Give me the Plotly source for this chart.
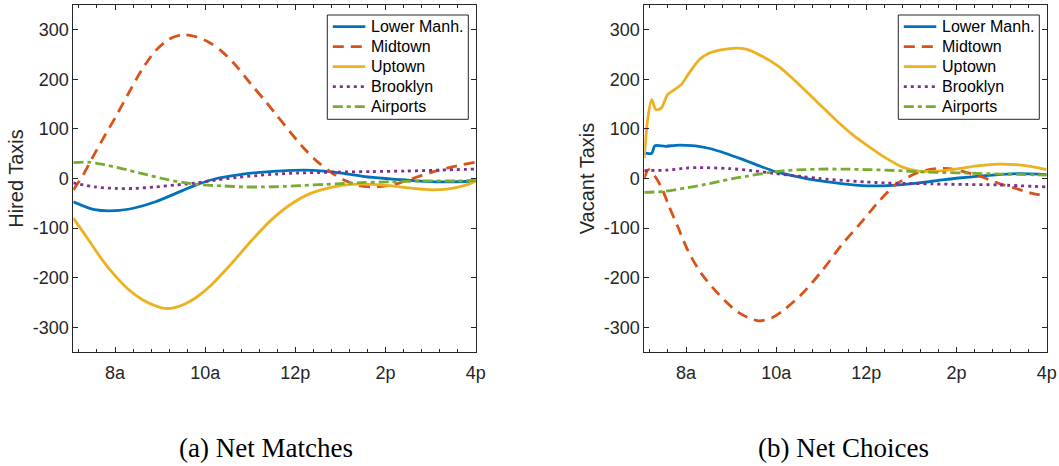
import plotly.graph_objects as go

# ---------------- data ----------------
series_names = ["Lower Manh.", "Midtown", "Uptown", "Brooklyn", "Airports"]
colors = ["#0072BD", "#D95319", "#EDB120", "#7E2F8E", "#77AC30"]
dashes = ["solid", "11px,7px", "solid", "3px,4px", "10px,4px,4px,4px"]

tick_hours = [8, 10, 12, 14, 16]
tick_labels = ["8a", "10a", "12p", "2p", "4p"]
y_ticks = [-300, -200, -100, 0, 100, 200, 300]
y_tick_labels = [str(v) for v in y_ticks]

# (a) Net Matches  -- hours, values
lm_a_t = [7.075, 7.55, 8.0, 8.45, 8.9, 9.35, 9.8, 10.25, 10.7, 11.15, 11.6, 12.2, 12.64, 13.09, 13.54, 14.0, 14.44, 14.9, 15.34, 16.0]
lm_a_v = [-47, -63, -65, -59, -47, -30, -13, 0, 7, 12, 15, 17, 15, 10, 4, 0, -3, -6, -7, -5]

mid_a_t = [7.075, 7.3, 7.5, 7.7, 8.0, 8.3, 8.6, 8.9, 9.2, 9.5, 9.8, 10.1, 10.4, 10.7, 11.0, 11.3, 11.6, 11.9, 12.2, 12.5, 12.8, 13.1, 13.4, 13.8, 14.2, 14.6, 15.0, 15.5, 16.0]
mid_a_v = [-23, 8, 42, 75, 122, 172, 220, 258, 281, 290, 286, 274, 254, 226, 192, 160, 126, 92, 60, 33, 12, -4, -14, -17, -12, 0, 12, 24, 33]

up_a_t = [7.075, 7.4, 7.7, 8.0, 8.3, 8.6, 8.9, 9.1, 9.3, 9.55, 9.8, 10.1, 10.55, 11.0, 11.45, 11.9, 12.34, 12.8, 13.24, 13.7, 14.14, 14.6, 15.04, 15.4, 15.8, 16.0]
up_a_v = [-80, -122, -162, -196, -224, -244, -257, -262, -261, -253, -240, -218, -175, -128, -85, -52, -30, -18, -12, -12, -15, -20, -23, -21, -13, -5]

bk_a_t = [7.075, 7.55, 8.0, 8.45, 8.9, 9.35, 9.8, 10.25, 10.7, 11.15, 11.6, 12.04, 12.5, 12.94, 13.7, 14.44, 15.2, 16.0]
bk_a_v = [-9, -17, -20, -20, -17, -13, -9, -3, 2, 6, 9, 11, 12, 13, 14, 15, 17, 19]

ap_a_t = [7.075, 7.4, 7.7, 8.15, 8.6, 9.05, 9.5, 9.95, 10.4, 10.85, 11.3, 11.75, 12.2, 12.64, 13.09, 13.54, 14.07, 14.8, 15.56, 16.0]
ap_a_v = [32, 33, 29, 20, 10, 0, -8, -13, -15, -17, -17, -16, -14, -12, -10, -8, -7, -5, -5, -4]

# (b) Net Choices  -- hours, values
lm_b_t = [7.075, 7.24, 7.31, 7.55, 7.77, 8.0, 8.21, 8.5, 8.87, 9.24, 9.61, 9.98, 10.35, 10.9, 11.4, 11.83, 12.27, 12.72, 13.16, 13.6, 14.05, 14.5, 14.94, 15.38, 16.0]
lm_b_v = [51, 51, 66, 65, 67, 67, 66, 61, 51, 39, 26, 14, 6, -4, -10, -14, -15, -13, -9, -4, 1, 5, 8, 10, 8]

mid_b_t = [7.075, 7.17, 7.33, 7.48, 7.61, 7.83, 8.05, 8.35, 8.72, 9.16, 9.6, 9.9, 10.2, 10.57, 11.01, 11.46, 11.9, 12.27, 12.64, 13.09, 13.46, 13.83, 14.2, 14.57, 14.94, 15.31, 15.68, 16.0]
mid_b_v = [1, 18, 2, -23, -53, -100, -147, -193, -233, -270, -287, -281, -263, -233, -187, -133, -87, -47, -13, 10, 19, 20, 13, 3, -10, -20, -30, -36]

up_b_t = [7.075, 7.15, 7.24, 7.33, 7.45, 7.59, 7.74, 7.89, 8.07, 8.3, 8.52, 8.81, 9.11, 9.33, 9.7, 10.07, 10.44, 10.88, 11.3, 11.7, 12.0, 12.42, 12.8, 13.16, 13.6, 14.05, 14.5, 14.94, 15.3, 15.67, 16.0]
up_b_v = [41, 119, 159, 139, 142, 169, 179, 189, 213, 240, 253, 260, 263, 261, 246, 225, 195, 157, 120, 88, 68, 42, 23, 15, 15, 20, 26, 29, 28, 24, 18]

bk_b_t = [7.075, 7.6, 8.0, 8.3, 8.96, 9.46, 9.98, 10.57, 10.96, 11.5, 12.0, 12.42, 12.87, 13.46, 14.2, 14.94, 16.0]
bk_b_v = [16, 17, 21, 22, 20, 16, 10, 4, 0, -4, -7, -9, -10, -11, -12, -13, -17]

ap_b_t = [7.075, 7.5, 8.0, 8.42, 8.74, 9.0, 9.31, 9.77, 10.2, 10.64, 10.96, 11.5, 12.0, 12.42, 12.87, 13.31, 13.75, 14.2, 14.94, 16.0]
ap_b_v = [-28, -26, -19, -12, -6, -1, 4, 11, 16, 18, 19, 19, 18, 17, 15, 13, 12, 11, 9, 7]

panel_a = [(lm_a_t, lm_a_v), (mid_a_t, mid_a_v), (up_a_t, up_a_v), (bk_a_t, bk_a_v), (ap_a_t, ap_a_v)]
panel_b = [(lm_b_t, lm_b_v), (mid_b_t, mid_b_v), (up_b_t, up_b_v), (bk_b_t, bk_b_v), (ap_b_t, ap_b_v)]

# ---------------- geometry (pixels) ----------------
W, H = 1059, 466
TOP, BOT = 5, 352            # plot area top / bottom in px
PH = BOT - TOP
ax_left = [73.3, 644.3]
ax_right = [475.7, 1046.7]

def px(x):
    return x / W

def py(y):
    return (BOT - y) / PH

fig = go.Figure()

LW = 2.8
for panel, xa, ya in [(panel_a, "x", "y"), (panel_b, "x2", "y2")]:
    for k, (t, v) in enumerate(panel):
        fig.add_trace(go.Scatter(
            x=t, y=v, mode="lines", name=series_names[k], showlegend=False,
            line=dict(color=colors[k], width=LW, dash=dashes[k], shape="spline", smoothing=0.8),
            xaxis=xa, yaxis=ya))

axcol = "#262626"
sans = "Liberation Sans, Arial, sans-serif"
tickfont = dict(family=sans, size=18, color=axcol)

def xax(domain, anchor):
    return dict(domain=domain, anchor=anchor, range=[7.075, 16.0],
                tickmode="array", tickvals=tick_hours, ticktext=tick_labels,
                ticks="inside", ticklen=5, tickwidth=1, tickcolor=axcol,
                showline=True, linecolor=axcol, linewidth=1, mirror="ticks",
                showgrid=False, zeroline=False, tickfont=tickfont,
                ticklabelstandoff=4,
                minor=dict(tickmode="linear", tick0=0, dtick=0.4, ticks="inside",
                           ticklen=3, tickcolor=axcol, showgrid=False))

def yax(anchor, title):
    return dict(domain=[0, 1], anchor=anchor, range=[-350, 350],
                tickmode="array", tickvals=y_ticks, ticktext=y_tick_labels,
                ticks="inside", ticklen=5, tickwidth=1, tickcolor=axcol,
                showline=True, linecolor=axcol, linewidth=1, mirror="ticks",
                showgrid=False, zeroline=False, tickfont=tickfont,
                ticklabelstandoff=0,
                title=dict(text=title, standoff=3,
                           font=dict(family=sans, size=20, color=axcol)))

# ---------------- legends (drawn as box + samples + labels) ----------------
shapes = []
annotations = []
leg_box = [327.3, 468.3, 15.0, 119.3]   # left, right, top, bottom (panel a)
row_y0, row_dy = 26.7, 20.0
for p in range(2):
    off = ax_left[p] - ax_left[0]
    L, R, T, B = leg_box[0] + off, leg_box[1] + off, leg_box[2], leg_box[3]
    shapes.append(dict(type="rect", xref="paper", yref="paper",
                       x0=px(L), x1=px(R), y0=py(B), y1=py(T),
                       line=dict(color=axcol, width=1), fillcolor="white", layer="above"))
    for k, name in enumerate(series_names):
        yy = row_y0 + k * row_dy
        shapes.append(dict(type="line", xref="paper", yref="paper",
                           x0=px(L + 5.5), x1=px(L + 38), y0=py(yy), y1=py(yy),
                           line=dict(color=colors[k], width=LW, dash=dashes[k]), layer="above"))
        annotations.append(dict(text=name, x=px(L + 41.5), y=py(yy), xref="paper", yref="paper",
                                xanchor="left", yanchor="middle", showarrow=False,
                                font=dict(family=sans, size=16, color="#000000")))

cap_font = dict(family="Liberation Serif, serif", size=27, color="#000000")
annotations.append(dict(text="(a) Net Matches", x=px(265.8), y=py(448), xref="paper", yref="paper",
                        xanchor="center", yanchor="middle", showarrow=False, font=cap_font))
annotations.append(dict(text="(b) Net Choices", x=px(843.5), y=py(448), xref="paper", yref="paper",
                        xanchor="center", yanchor="middle", showarrow=False, font=cap_font))

fig.update_layout(
    width=W, height=H,
    margin=dict(l=0, r=0, t=TOP, b=H - BOT, autoexpand=False),
    paper_bgcolor="white", plot_bgcolor="white",
    xaxis=xax([px(ax_left[0]), px(ax_right[0])], "y"), yaxis=yax("x", "Hired Taxis"),
    xaxis2=xax([px(ax_left[1]), px(ax_right[1])], "y2"), yaxis2=yax("x2", "Vacant Taxis"),
    showlegend=False,
    hovermode=False,
    shapes=shapes,
    annotations=annotations,
)

fig.write_html("out.html", config={"displayModeBar": False, "staticPlot": True},
               post_script="document.body.style.margin='0px';")
